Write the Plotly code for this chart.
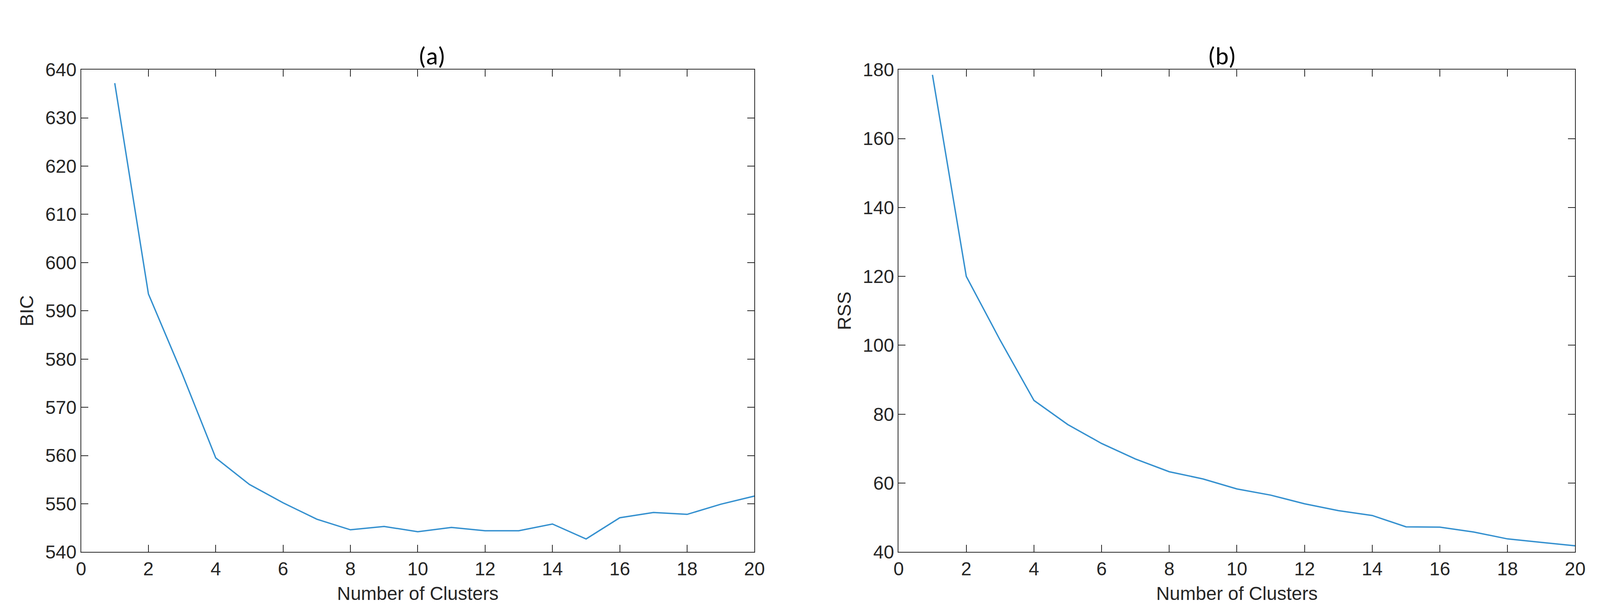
import plotly.graph_objects as go
from plotly.subplots import make_subplots

clusters = list(range(1, 21))
bic = [637.2, 593.5, 577.0, 559.5, 554.0, 550.2, 546.8, 544.6, 545.3, 544.2,
       545.1, 544.4, 544.4, 545.8, 542.7, 547.1, 548.2, 547.8, 549.9, 551.6]
rss = [178.5, 120.0, 101.5, 84.0, 77.0, 71.5, 67.0, 63.3, 61.2, 58.3,
       56.5, 54.0, 52.0, 50.6, 47.3, 47.2, 45.8, 43.8, 42.8, 41.8]
titles = ["(a)", "(b)"]

fig = make_subplots(rows=1, cols=2)
color = "#3490cf"
fig.add_trace(go.Scatter(x=clusters, y=bic, mode="lines", line=dict(color=color, width=3.5), showlegend=False), 1, 1)
fig.add_trace(go.Scatter(x=clusters, y=rss, mode="lines", line=dict(color=color, width=3.5), showlegend=False), 1, 2)

axfont = dict(family="Liberation Sans, Arial", size=48, color="#262626")
common = dict(showgrid=False, zeroline=False, showline=True, linecolor="#262626", linewidth=2,
              mirror="ticks", ticks="inside", ticklen=18, tickwidth=2, tickcolor="#262626",
              tickfont=axfont)
fig.update_layout(
    autosize=True, margin=dict(l=0, r=0, t=0, b=0),
    plot_bgcolor="white", paper_bgcolor="white",
    xaxis=dict(domain=[0.046, 0.471], range=[0, 20], dtick=2,
               title=dict(text="Number of Clusters", font=axfont, standoff=20), **common),
    xaxis2=dict(domain=[0.562, 0.989], range=[0, 20], dtick=2,
                title=dict(text="Number of Clusters", font=axfont, standoff=20), **common),
    yaxis=dict(domain=[0.092, 0.905], range=[540, 640], dtick=10,
               title=dict(text="BIC", font=axfont, standoff=15), **common),
    yaxis2=dict(domain=[0.092, 0.905], range=[40, 180], dtick=20,
                title=dict(text="RSS", font=axfont, standoff=15), **common),
    annotations=[
        dict(text=titles[0], x=(0.046 + 0.471) / 2, y=0.955, xref="paper", yref="paper",
             showarrow=False, font=dict(family="Carlito, Liberation Sans", size=64, color="black")),
        dict(text=titles[1], x=(0.562 + 0.989) / 2, y=0.955, xref="paper", yref="paper",
             showarrow=False, font=dict(family="Carlito, Liberation Sans", size=64, color="black")),
    ],
)
fig.write_html("out.html", default_width="100vw", default_height="100vh",
               config={"responsive": True})
